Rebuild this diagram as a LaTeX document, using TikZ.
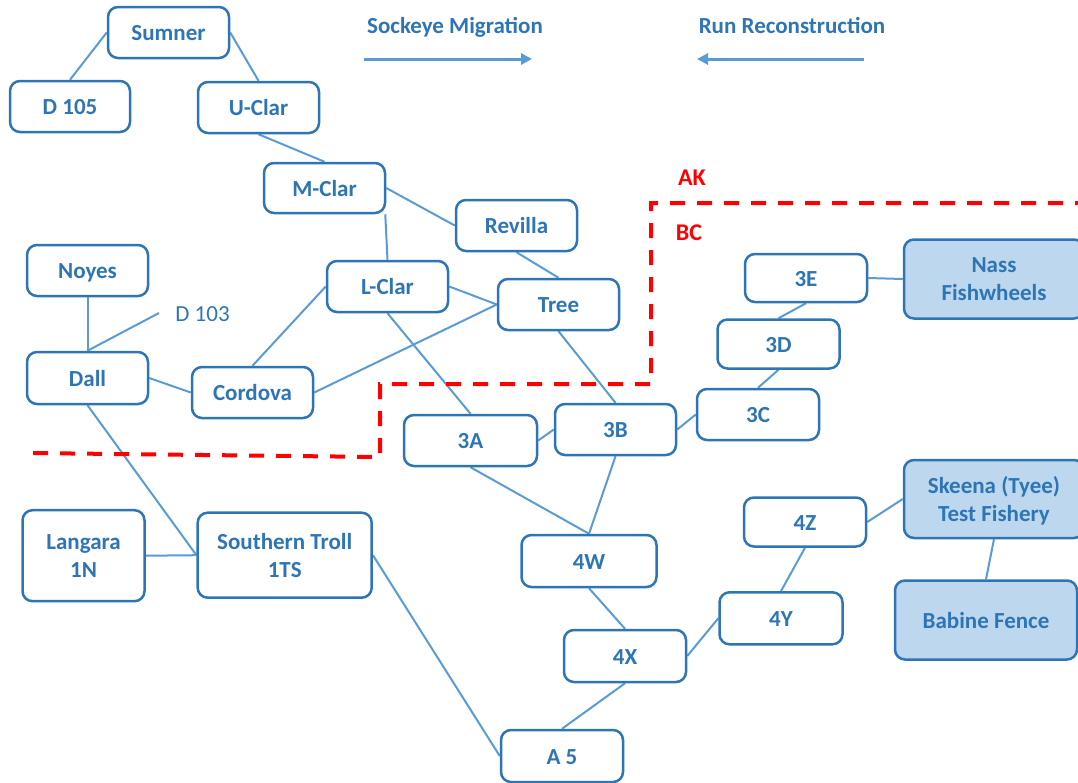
\documentclass[tikz,border=0pt]{standalone}
\usepackage{fontspec}
\setmainfont{Carlito}
\usetikzlibrary{arrows.meta,backgrounds}

\definecolor{boxblue}{HTML}{2E75B6}
\definecolor{linkblue}{HTML}{5B9BD5}
\definecolor{areafill}{HTML}{BDD7EE}
\definecolor{borderred}{HTML}{FF0000}

\tikzset{
  stn/.style={draw=boxblue, line width=2.5pt, rounded corners=10pt, fill=white,
    text=boxblue, font=\fontsize{23}{28}\selectfont\bfseries, align=center,
    inner sep=0pt, minimum width=121pt, minimum height=51pt},
  oneline/.style={text height=16pt, text depth=0pt},
  est/.style={stn, fill=areafill},
  link/.style={draw=linkblue, line width=2pt},
  heading/.style={text=boxblue, font=\fontsize{23}{28}\selectfont\bfseries,
    inner sep=0pt, text height=14.5pt, text depth=0pt},
  flow/.style={draw=linkblue, line width=3pt, -{Triangle[length=11pt,width=11pt]}},
  zone/.style={text=borderred, font=\fontsize{24}{28}\selectfont\bfseries,
    inner sep=0pt, text height=15pt, text depth=0pt},
  border/.style={draw=borderred, line width=4pt, dash pattern=on 15pt off 12pt},
}

\begin{document}
\begin{tikzpicture}[x=1pt, y=-1pt]
\clip (0,0) rectangle (1078,782);
\useasboundingbox (0,0) rectangle (1078,782);

% headings and direction arrows
\node[heading] (mig) at (455,25.8) {Sockeye Migration};
\node[heading] (rec) at (792,25.8) {Run Reconstruction};
\coordinate (migA) at (364,59);
\coordinate (migB) at (532,59);
\coordinate (recA) at (864,59);
\coordinate (recB) at (697,59);
\draw[flow] (migA) -- (migB);
\draw[flow] (recA) -- (recB);

% US / Canada boundary
\node[zone] (ak) at (692,177.5) {AK};
\node[zone] (bc) at (689,233) {BC};
\draw[border] (1090,203) -- (651,203) -- (651,384) -- (380,384) -- (380,457) -- (28,453);

% stations
\node[stn, oneline] (sumner)  at (168.5,32.5) {Sumner};
\node[stn, oneline, minimum width=120pt] (d105) at (70,106.5) {D 105};
\node[stn, oneline] (uclar)   at (258.5,107.5) {U-Clar};
\node[stn, oneline, minimum height=50pt] (mclar) at (324.5,188) {M-Clar};
\node[stn, oneline] (revilla) at (516.5,225.5) {Revilla};
\node[stn, oneline] (noyes)   at (87.5,270.5) {Noyes};
\node[stn, oneline] (lclar)   at (387.5,286.5) {L-Clar};
\node[stn, oneline] (tree)    at (558.5,304.5) {Tree};
\node[stn, oneline, minimum height=52pt] (dall) at (87.5,378) {Dall};
\node[stn, oneline] (cordova) at (252.5,392.5) {Cordova};
\node[text=boxblue, font=\fontsize{23}{28}\selectfont, inner sep=0pt,
      text height=14.5pt, text depth=0pt] (d103) at (202.5,313.8) {D 103};
\coordinate (d103end) at (159,313);

\node[stn, oneline, minimum width=122pt, minimum height=48pt] (e3) at (806,278) {3E};
\node[est, minimum width=180pt, minimum height=79pt] (nass) at (994,279) {Nass\\Fishwheels};
\node[stn, oneline, minimum width=122pt, minimum height=49pt] (d3) at (778.5,344) {3D};
\node[stn, oneline, minimum width=122pt] (c3) at (758,414.5) {3C};
\node[stn, oneline, minimum width=133pt] (a3) at (470.5,440.5) {3A};
\node[stn, oneline] (b3) at (615.5,429.5) {3B};

\node[est, minimum width=180pt, minimum height=78pt, text depth=0pt] (skeena) at (994,499) {Skeena (Tyee)\\Test Fishery};
\node[est, oneline, minimum width=182pt, minimum height=79pt] (babine) at (986,620) {Babine Fence};
\node[stn, oneline, minimum width=122pt, minimum height=49pt] (z4) at (805,522) {4Z};
\node[stn, oneline, minimum width=123pt, minimum height=52pt] (y4) at (781,618.3) {4Y};
\node[stn, oneline, minimum width=135pt, minimum height=52pt] (w4) at (589,561) {4W};
\node[stn, oneline, minimum width=122pt, minimum height=52pt] (x4) at (625,656) {4X};
\node[stn, oneline, minimum width=122pt, minimum height=52pt] (a5) at (562,756) {A 5};

\node[stn, minimum width=122pt, minimum height=91pt] (langara) at (83.5,555.7) {Langara\\1N};
\node[stn, minimum width=174pt, minimum height=85pt] (troll) at (284.7,555.2) {Southern Troll\\1TS};

% connections
\begin{scope}[on background layer]
\draw[link] (sumner.west) -- (d105.north);
\draw[link] (sumner.east) -- (uclar.north);
\draw[link] (uclar.south) -- (mclar.north);
\draw[link] (mclar.east) -- (revilla.west);
\draw[link] ([xshift=-1pt]mclar.south east) -- (lclar.north);
\draw[link] (revilla.south) -- (tree.north);
\draw[link] (lclar.east) -- (tree.west);
\draw[link] (lclar.south) -- (a3.north);
\draw[link] (lclar.west) -- (cordova.north);
\draw[link] (cordova.east) -- (tree.west);
\draw[link] (noyes.south) -- (dall.north);
\draw[link] (d103end) -- (dall.north);
\draw[link] (dall.east) -- (cordova.west);
\draw[link] (dall.south) -- (troll.west);
\draw[link] (langara.east) -- (troll.west);
\draw[link] (troll.east) -- (a5.west);
\draw[link] (tree.south) -- (b3.north);
\draw[link] (a3.east) -- (b3.west);
\draw[link] (b3.east) -- (c3.west);
\draw[link] (c3.north) -- (d3.south);
\draw[link] (d3.north) -- (e3.south);
\draw[link] (e3.east) -- (nass.west);
\draw[link] (a3.south) -- (w4.north);
\draw[link] (b3.south) -- (w4.north);
\draw[link] (w4.south) -- (x4.north);
\draw[link] (x4.east) -- (y4.west);
\draw[link] (y4.north) -- (z4.south);
\draw[link] (z4.east) -- (skeena.west);
\draw[link] (skeena.south) -- (babine.north);
\draw[link] (x4.south) -- (a5.north);
\end{scope}
\end{tikzpicture}
\end{document}
